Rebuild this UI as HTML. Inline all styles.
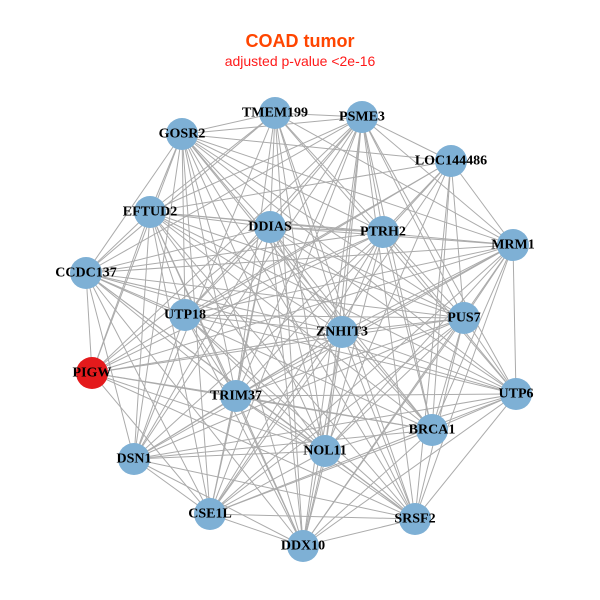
<!DOCTYPE html>
<html><head><meta charset="utf-8"><style>
html,body{margin:0;padding:0;background:#fff;}
svg{display:block;}
.l{font-family:"Liberation Serif",serif;font-weight:bold;font-size:14px;fill:#000;text-anchor:middle;dominant-baseline:central;}
</style></head><body>
<svg id="s" width="600" height="600" xmlns="http://www.w3.org/2000/svg">
<rect width="600" height="600" fill="#fff"/>
<text x="300" y="47" font-family="Liberation Sans,sans-serif" font-weight="bold" font-size="18" fill="#ff4500" text-anchor="middle">COAD tumor</text>
<text x="300" y="66" font-family="Liberation Sans,sans-serif" font-size="14" fill="#ff1a1a" text-anchor="middle">adjusted p-value &lt;2e-16</text>
<g id="edges" stroke="#ababab" stroke-width="1"></g>
<g id="nodes" fill="#7eb0d5"></g>
<g>
<text class="l" x="275" y="113">TMEM199</text>
<text class="l" x="362" y="117">PSME3</text>
<text class="l" x="182" y="134">GOSR2</text>
<text class="l" x="451" y="161">LOC144486</text>
<text class="l" x="150" y="212">EFTUD2</text>
<text class="l" x="270" y="227">DDIAS</text>
<text class="l" x="383" y="232">PTRH2</text>
<text class="l" x="513" y="245">MRM1</text>
<text class="l" x="86" y="273">CCDC137</text>
<text class="l" x="185" y="315">UTP18</text>
<text class="l" x="464" y="318">PUS7</text>
<text class="l" x="342" y="332">ZNHIT3</text>
<text class="l" x="92" y="373">PIGW</text>
<text class="l" x="236" y="396">TRIM37</text>
<text class="l" x="516" y="394">UTP6</text>
<text class="l" x="432" y="430">BRCA1</text>
<text class="l" x="325" y="451">NOL11</text>
<text class="l" x="134" y="459">DSN1</text>
<text class="l" x="210" y="514">CSE1L</text>
<text class="l" x="415" y="519">SRSF2</text>
<text class="l" x="303" y="546">DDX10</text>
</g>
</svg>
<script>
var P=[[275,113],[362,117],[182,134],[451,161],[150,212],[270,227],[383,232],[513,245],[86,273],[185,315],[464,318],[342,332],[92,373],[236,396],[516,394],[432,430],[325,451],[134,459],[210,514],[415,519],[303,546]];
var ns="http://www.w3.org/2000/svg",E=document.getElementById("edges"),N=document.getElementById("nodes");
for(var i=0;i<P.length;i++){for(var j=i+1;j<P.length;j++){if((i*7+j*3)%9==0)continue;var l=document.createElementNS(ns,"line");l.setAttribute("x1",P[i][0]);l.setAttribute("y1",P[i][1]);l.setAttribute("x2",P[j][0]);l.setAttribute("y2",P[j][1]);E.appendChild(l);}
var c=document.createElementNS(ns,"circle");c.setAttribute("cx",P[i][0]);c.setAttribute("cy",P[i][1]);c.setAttribute("r",16);if(i==12)c.setAttribute("fill","#e41a1c");N.appendChild(c);}
</script>
</body></html>
